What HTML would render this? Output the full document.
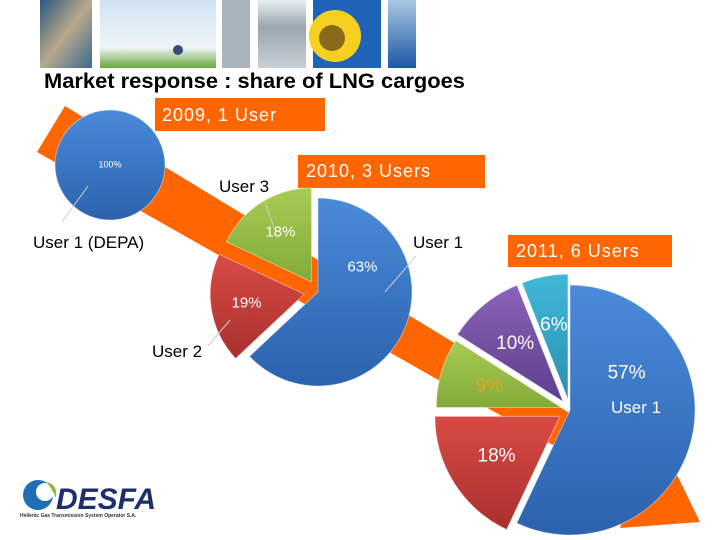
<!DOCTYPE html>
<html><head><meta charset="utf-8"><style>
body{margin:0;width:720px;height:540px;overflow:hidden;background:#fff;font-family:"Liberation Sans",sans-serif}
svg{position:absolute;left:0;top:0}
</style></head><body>
<svg width="720" height="540" viewBox="0 0 720 540">
<defs>
<linearGradient id="gBlue" x1="0" y1="0" x2="0" y2="1"><stop offset="0" stop-color="#4a8bd9"/><stop offset="1" stop-color="#2c62ad"/></linearGradient>
<linearGradient id="gRed" x1="0" y1="0" x2="0" y2="1"><stop offset="0" stop-color="#d94b45"/><stop offset="1" stop-color="#a9302e"/></linearGradient>
<linearGradient id="gGreen" x1="0" y1="0" x2="0" y2="1"><stop offset="0" stop-color="#a8cc55"/><stop offset="1" stop-color="#82aa38"/></linearGradient>
<linearGradient id="gPurple" x1="0" y1="0" x2="0" y2="1"><stop offset="0" stop-color="#8a63b8"/><stop offset="1" stop-color="#5e3f8e"/></linearGradient>
<linearGradient id="gCyan" x1="0" y1="0" x2="0" y2="1"><stop offset="0" stop-color="#40b8d8"/><stop offset="1" stop-color="#2a8fb0"/></linearGradient>
<linearGradient id="sky" x1="0" y1="0" x2="0" y2="1"><stop offset="0" stop-color="#cfe3f3"/><stop offset="0.7" stop-color="#eef4f8"/><stop offset="1" stop-color="#6aa83a"/></linearGradient>
<linearGradient id="sea" x1="0" y1="0" x2="1" y2="1"><stop offset="0" stop-color="#2a5a80"/><stop offset="0.5" stop-color="#b8a88a"/><stop offset="1" stop-color="#3a6a90"/></linearGradient>
<linearGradient id="pipe" x1="0" y1="0" x2="0" y2="1"><stop offset="0" stop-color="#e8eef2"/><stop offset="0.4" stop-color="#9aa5ae"/><stop offset="1" stop-color="#c8d0d6"/></linearGradient>
<linearGradient id="flame" x1="0" y1="0" x2="0" y2="1"><stop offset="0" stop-color="#a8c8e0"/><stop offset="1" stop-color="#1e58a8"/></linearGradient>
</defs>

<g>
<rect x="40" y="0" width="52" height="68" fill="url(#sea)"/>
<rect x="100" y="0" width="116" height="68" fill="url(#sky)"/>
<circle cx="178" cy="50" r="5" fill="#3a4a7a"/>
<rect x="222" y="0" width="28" height="68" fill="#a9b4bc"/>
<rect x="258" y="0" width="48" height="68" fill="url(#pipe)"/>
<rect x="313" y="0" width="68" height="68" fill="#1f63b8"/>
<circle cx="335" cy="36" r="26" fill="#f5d020"/><circle cx="332" cy="38" r="13" fill="#8a6a1a"/>
<rect x="388" y="0" width="28" height="68" fill="url(#flame)"/>
</g>

<text x="44" y="88" font-size="21" font-weight="bold" fill="#000" textLength="421" lengthAdjust="spacingAndGlyphs">Market response : share of LNG cargoes</text>

<polygon fill="#ff6600" points="65,106 650,462 660,440 700,522 620,528 632,490 37,152"/>

<g font-size="18" fill="#fff" letter-spacing="1">
<rect x="155" y="98" width="170" height="33" fill="#ff6600"/>
<text x="162" y="121" fill="#fff">2009, 1 User</text>
<rect x="298" y="155" width="187" height="33" fill="#ff6600"/>
<text x="306" y="177" fill="#fff">2010, 3 Users</text>
<rect x="508" y="235" width="164" height="32" fill="#ff6600"/>
<text x="516" y="257" fill="#fff">2011, 6 Users</text>
</g>

<g id="pies"></g>

<g font-size="17" fill="#000">
<line x1="88" y1="186" x2="62" y2="222" stroke="#ccc" stroke-width="1"/>
<text x="33" y="248">User 1 (DEPA)</text>
<line x1="265" y1="202" x2="275" y2="230" stroke="#ccc" stroke-width="1"/>
<text x="219" y="192">User 3</text>
<line x1="230" y1="320" x2="208" y2="346" stroke="#ccc" stroke-width="1"/>
<text x="152" y="357">User 2</text>
<line x1="416" y1="256" x2="385" y2="292" stroke="#ccc" stroke-width="1"/>
<text x="413" y="248">User 1</text>
<text x="611" y="413" fill="#fff">User 1</text>
</g>

<g>
<circle cx="38" cy="495" r="15" fill="#1e6fb8"/>
<circle cx="45" cy="492" r="9" fill="#fff"/>
<path d="M46,482 Q58,484 56,498 Q52,488 46,482Z" fill="#8ab83a"/>
<text x="56" y="509" font-size="30" font-weight="bold" font-style="italic" fill="#1d2f6b">DESFA</text>
<text x="20" y="517" font-size="5" font-weight="bold" fill="#333">Hellenic Gas Transmission System Operator S.A.</text>
</g>
</svg>
<script>
// Pie data
const pie2009Labels = ["User 1"];
const pie2009Values = [100];
const pie2010Labels = ["User 1", "User 2", "User 3"];
const pie2010Values = [63, 19, 18];
const pie2011Labels = ["User 1", "User 2", "User 3", "User 4", "User 5"];
const pie2011Values = [57, 18, 9, 10, 6];

const NS = "http://www.w3.org/2000/svg";
const root = document.getElementById("pies");
const fills = ["url(#gBlue)","url(#gRed)","url(#gGreen)","url(#gPurple)","url(#gCyan)"];
const txtColors = ["#fff","#fff","#fff","#fff","#fff"];
function pt(cx, cy, r, a){ const t = a*Math.PI/180; return [cx + r*Math.sin(t), cy - r*Math.cos(t)]; }
function drawPie(name, cx, cy, r, values, explode, fontSize, labelColors, labelR, firstLabel){
  const total = values.reduce((a,b)=>a+b,0);
  let a0 = 0;
  const g = document.createElementNS(NS,"g");
  
  
  root.appendChild(g);
  values.forEach((v,i)=>{
    const a1 = a0 + v/total*360;
    const mid = (a0+a1)/2;
    const off = explode[i] || 0;
    const [ox, oy] = pt(0,0,off,mid);
    const x = cx+ox, y = cy+oy;
    let el;
    if (v >= total) {
      el = document.createElementNS(NS,"circle");
      el.setAttribute("cx", x); el.setAttribute("cy", y); el.setAttribute("r", r);
    } else {
      const [x0,y0] = pt(x,y,r,a0), [x1,y1] = pt(x,y,r,a1);
      el = document.createElementNS(NS,"path");
      el.setAttribute("d", `M${x},${y} L${x0},${y0} A${r},${r} 0 ${a1-a0>180?1:0} 1 ${x1},${y1} Z`);
    }
    el.setAttribute("fill", fills[i]);
    el.setAttribute("stroke", "rgba(255,255,255,0.4)");
    
    
    g.appendChild(el);
    let lx, ly;
    if (v >= total) { lx = x; ly = y; }
    else if (i === 0 && firstLabel) { [lx,ly] = pt(x,y,r*firstLabel[1],firstLabel[0]); }
    else { [lx,ly] = pt(x,y,r*labelR,mid); }
    const t = document.createElementNS(NS,"text");
    t.setAttribute("x", lx); t.setAttribute("y", ly);
    t.setAttribute("text-anchor","middle"); t.setAttribute("dominant-baseline","middle");
    t.setAttribute("font-size", fontSize); t.setAttribute("fill", labelColors[i] || "#fff");
    t.textContent = v + "%";
    
    
    g.appendChild(t);
    a0 = a1;
  });
}
drawPie("pie-2009", 110, 165, 55, pie2009Values, [0], 9, txtColors, 0.5);
drawPie("pie-2010", 318, 292, 94, pie2010Values, [0, 14, 12], 15, txtColors, 0.62, [61, 0.54]);
drawPie("pie-2011", 570, 410, 125, pie2011Values, [0, 12, 9, 11, 11], 19, ["#fff","#fff","#e8a020","#fff","#fff"], 0.6, [57, 0.54]);
</script>
</body></html>
